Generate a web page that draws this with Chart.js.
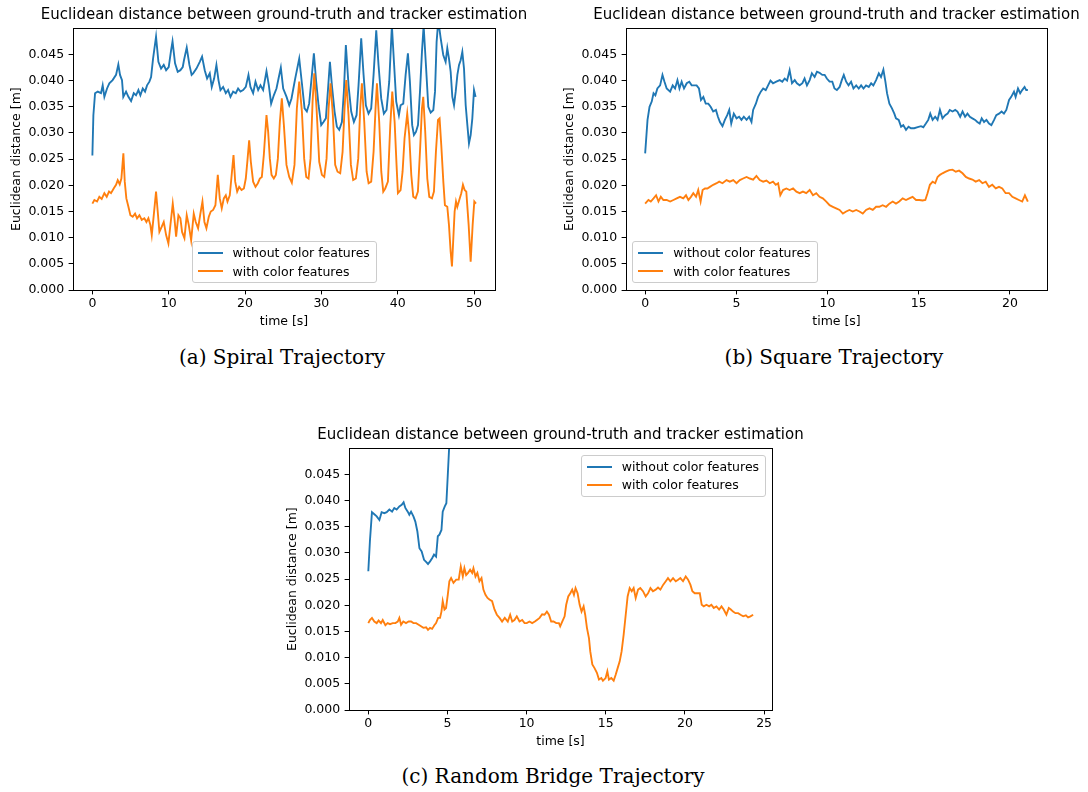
<!DOCTYPE html>
<html>
<head>
<meta charset="utf-8">
<title>Euclidean distance between ground-truth and tracker estimation</title>
<script src="https://cdn.jsdelivr.net/npm/chart.js@4.4.1/dist/chart.umd.min.js"></script>
<style>
  html, body { margin: 0; padding: 0; background: #fff; width: 1088px; height: 792px; overflow: hidden; }
  .panel { position: absolute; }
  .panel canvas { display: block; }
  .legend {
    position: absolute; box-sizing: border-box; padding: 2px 6px 2px 5px;
    border: 1px solid #cccccc; border-radius: 3px; background: rgba(255,255,255,0.8);
    font: 12.5px 'DejaVu Sans', sans-serif; color: #000; white-space: nowrap;
  }
  .legend .row { display: flex; align-items: center; height: 18.3px; }
  .legend .swatch { width: 25px; height: 2px; margin-right: 10px; flex: none; }
  .caption {
    position: absolute; font: 20px 'DejaVu Serif', serif; line-height: 20px;
    color: #000; white-space: nowrap; transform: translateX(-50%);
  }
</style>
</head>
<body>
<div class="panel" style="left:0px;top:0px"><canvas id="ca" width="568" height="330"></canvas><div class="legend" id="la"></div></div>
<div class="panel" style="left:553px;top:0px"><canvas id="cb" width="567" height="330"></canvas><div class="legend" id="lb"></div></div>
<div class="panel" style="left:276px;top:420px"><canvas id="cc" width="569" height="330"></canvas><div class="legend" id="lc"></div></div>
<div class="caption" style="left:282px;top:347px">(a) Spiral Trajectory</div>
<div class="caption" style="left:834px;top:347px">(b) Square Trajectory</div>
<div class="caption" style="left:553px;top:766px">(c) Random Bridge Trajectory</div>
<script>
// ---- data (time in s, distance in m) ----
const seriesLabels = ['without color features', 'with color features'];
const yTicks = [0, 0.005, 0.01, 0.015, 0.02, 0.025, 0.03, 0.035, 0.04, 0.045];
const spiralXTicks = [0, 10, 20, 30, 40, 50];
const squareXTicks = [0, 5, 10, 15, 20];
const bridgeXTicks = [0, 5, 10, 15, 20, 25];

// (a) spiral
const spiralTimeA = [0, 0.13, 0.35, 0.7, 1.13, 1.35, 1.57, 1.92, 2.22, 2.65,
  3.1, 3.4, 3.62, 3.88, 4.05, 4.41, 4.72, 5.07, 5.42, 5.72,
  6.03, 6.29, 6.6, 6.9, 7.16, 7.47, 7.69, 7.95, 8.34, 8.65,
  9.0, 9.35, 9.66, 10.0, 10.31, 10.5, 10.83, 11.18, 11.53, 11.84,
  12.0, 12.36, 12.71, 13.0, 13.2, 13.63, 14.07, 14.37, 14.72, 15.03,
  15.38, 15.64, 15.95, 16.25, 16.52, 16.78, 17.13, 17.48, 17.78, 18.09,
  18.44, 18.79, 19.09, 19.4, 19.75, 20.1, 20.45, 20.71, 21.06, 21.37,
  21.72, 22.02, 22.37, 22.81, 23.12, 23.42, 23.77, 24.12, 24.39, 24.69,
  25.0, 25.44, 25.79, 26.09, 26.57, 27.1, 27.45, 27.8, 28.1, 28.4,
  28.76, 29.02, 29.32, 29.63, 29.98, 30.28, 30.59, 30.85, 31.12, 31.38,
  31.73, 32.03, 32.34, 32.69, 32.95, 33.21, 33.56, 33.91, 34.26, 34.61,
  34.87, 35.22, 35.53, 35.83, 36.18, 36.53, 36.84, 37.19, 37.49, 37.84,
  38.19, 38.54, 38.89, 39.24, 39.51, 39.81, 40.16, 40.38, 40.73, 41.04,
  41.34, 41.6, 41.9, 42.13, 42.39, 42.66, 42.92, 43.18, 43.4, 43.7,
  44.01, 44.32, 44.67, 44.89, 45.1, 45.32, 45.63, 45.97, 46.28, 46.5,
  46.72, 46.94, 47.16, 47.38, 47.6, 47.82, 48.04, 48.25, 48.47, 48.69,
  48.91, 49.13, 49.34, 49.56, 49.78, 50.0, 50.21];
const spiralWithout = [0.0257, 0.0334, 0.0376, 0.0379, 0.0376, 0.0391, 0.0369, 0.0385, 0.0395, 0.0401,
  0.0411, 0.0431, 0.0411, 0.0401, 0.0369, 0.0379, 0.0369, 0.0361, 0.0376, 0.0372,
  0.0382, 0.0372, 0.0385, 0.0379, 0.0391, 0.0398, 0.0407, 0.0442, 0.0484, 0.0436,
  0.0423, 0.0430, 0.0420, 0.0426, 0.0458, 0.0475, 0.0433, 0.0417, 0.0420, 0.0426,
  0.0439, 0.0463, 0.0430, 0.0411, 0.0414, 0.0423, 0.0436, 0.0446, 0.0420, 0.0404,
  0.0414, 0.0388, 0.0404, 0.0430, 0.0401, 0.0382, 0.0388, 0.0376, 0.0382, 0.0369,
  0.0379, 0.0376, 0.0385, 0.0379, 0.0382, 0.0388, 0.0411, 0.0388, 0.0376, 0.0398,
  0.0382, 0.0391, 0.0382, 0.0418, 0.0391, 0.0356, 0.0372, 0.0385, 0.0404, 0.0425,
  0.0385, 0.0369, 0.0353, 0.0366, 0.0404, 0.0442, 0.0395, 0.0347, 0.0341, 0.0356,
  0.0411, 0.0452, 0.0398, 0.0353, 0.0315, 0.0321, 0.0328, 0.0379, 0.0436, 0.0391,
  0.0341, 0.0312, 0.0306, 0.0321, 0.0379, 0.0468, 0.0391, 0.0341, 0.0321, 0.0334,
  0.0391, 0.0481, 0.0411, 0.0353, 0.0337, 0.0347, 0.0411, 0.0496, 0.0430, 0.0366,
  0.0337, 0.0344, 0.0398, 0.0505, 0.0436, 0.0360, 0.0334, 0.0353, 0.0356, 0.0411,
  0.0452, 0.0398, 0.0315, 0.0296, 0.0302, 0.0315, 0.0379, 0.0455, 0.0505, 0.0430,
  0.0350, 0.0339, 0.0344, 0.0379, 0.0474, 0.0515, 0.0481, 0.0449, 0.0436, 0.0462,
  0.0442, 0.0417, 0.0369, 0.0353, 0.0379, 0.0411, 0.0430, 0.0439, 0.0455, 0.0423,
  0.0353, 0.0315, 0.0280, 0.0296, 0.0328, 0.0382, 0.0369];
const spiralTimeB = [0, 0.26, 0.61, 0.91, 1.22, 1.57, 1.88, 2.18, 2.44, 2.79,
  3.1, 3.32, 3.58, 3.8, 4.06, 4.24, 4.45, 4.72, 4.98, 5.28,
  5.59, 5.85, 6.16, 6.47, 6.81, 7.08, 7.34, 7.6, 7.78, 8.0,
  8.34, 8.56, 8.78, 9.09, 9.35, 9.66, 9.96, 10.22, 10.53, 10.75,
  10.97, 11.27, 11.53, 11.75, 12.06, 12.36, 12.63, 12.94, 13.28, 13.54,
  13.85, 14.15, 14.42, 14.68, 14.94, 15.25, 15.51, 15.82, 16.12, 16.43,
  16.69, 16.95, 17.22, 17.48, 17.7, 18.0, 18.27, 18.49, 18.71, 18.97,
  19.23, 19.54, 19.85, 20.1, 20.32, 20.54, 20.76, 21.06, 21.37, 21.68,
  21.94, 22.2, 22.46, 22.81, 23.03, 23.25, 23.47, 23.77, 24.04, 24.3,
  24.56, 24.82, 25.09, 25.43, 25.79, 26.13, 26.48, 26.79, 27.1, 27.45,
  27.75, 28.02, 28.32, 28.58, 28.85, 29.07, 29.37, 29.72, 30.07, 30.38,
  30.68, 30.95, 31.2, 31.51, 31.81, 32.12, 32.47, 32.78, 33.04, 33.26,
  33.56, 33.87, 34.17, 34.52, 34.83, 35.09, 35.31, 35.62, 35.93, 36.19,
  36.53, 36.84, 37.1, 37.28, 37.58, 37.85, 38.11, 38.37, 38.72, 39.03,
  39.29, 39.6, 39.85, 40.03, 40.38, 40.64, 40.9, 41.25, 41.51, 41.78,
  42.04, 42.35, 42.65, 42.92, 43.18, 43.35, 43.61, 43.88, 44.14, 44.49,
  44.75, 45.01, 45.28, 45.49, 45.71, 45.98, 46.19, 46.5, 46.72, 46.94,
  47.11, 47.29, 47.46, 47.64, 47.81, 48.07, 48.33, 48.55, 48.77, 48.99,
  49.3, 49.56, 49.82, 50.04, 50.26];
const spiralWith = [0.0165, 0.0172, 0.0169, 0.0178, 0.0174, 0.0185, 0.0178, 0.0188, 0.0185, 0.0194,
  0.0201, 0.0210, 0.0202, 0.0213, 0.0261, 0.0207, 0.0175, 0.0159, 0.0143, 0.0140,
  0.0146, 0.0137, 0.0143, 0.0134, 0.0137, 0.0130, 0.0137, 0.0124, 0.0105, 0.0137,
  0.0188, 0.0150, 0.0111, 0.0121, 0.0130, 0.0105, 0.0089, 0.0124, 0.0165, 0.0137,
  0.0102, 0.0143, 0.0137, 0.0111, 0.0099, 0.0143, 0.0124, 0.0095, 0.0146, 0.0130,
  0.0118, 0.0146, 0.0169, 0.0130, 0.0118, 0.0140, 0.0150, 0.0153, 0.0162, 0.0220,
  0.0175, 0.0156, 0.0175, 0.0181, 0.0169, 0.0181, 0.0223, 0.0258, 0.0207, 0.0188,
  0.0197, 0.0191, 0.0194, 0.0213, 0.0248, 0.0286, 0.0245, 0.0207, 0.0197, 0.0204,
  0.0213, 0.0216, 0.0258, 0.0334, 0.0302, 0.0251, 0.0220, 0.0213, 0.0220, 0.0251,
  0.0321, 0.0366, 0.0315, 0.0239, 0.0216, 0.0205, 0.0239, 0.0347, 0.0398, 0.0341,
  0.0251, 0.0216, 0.0213, 0.0251, 0.0360, 0.0414, 0.0347, 0.0245, 0.0220, 0.0216,
  0.0251, 0.0347, 0.0395, 0.0334, 0.0239, 0.0226, 0.0223, 0.0264, 0.0347, 0.0401,
  0.0334, 0.0239, 0.0210, 0.0213, 0.0251, 0.0347, 0.0395, 0.0321, 0.0226, 0.0204,
  0.0207, 0.0264, 0.0347, 0.0395, 0.0321, 0.0226, 0.0188, 0.0194, 0.0207, 0.0315,
  0.0379, 0.0321, 0.0239, 0.0185, 0.0191, 0.0226, 0.0290, 0.0337, 0.0296, 0.0220,
  0.0178, 0.0175, 0.0188, 0.0264, 0.0347, 0.0369, 0.0302, 0.0213, 0.0178, 0.0175,
  0.0188, 0.0264, 0.0325, 0.0328, 0.0277, 0.0207, 0.0162, 0.0159, 0.0124, 0.0073,
  0.0045, 0.0099, 0.0150, 0.0169, 0.0159, 0.0172, 0.0185, 0.0201, 0.0191, 0.0188,
  0.0124, 0.0054, 0.0124, 0.0169, 0.0165];

// (b) square
const squareTimeA = [0, 0.13, 0.24, 0.36, 0.46, 0.56, 0.67, 0.82, 0.95, 1.06,
  1.18, 1.37, 1.51, 1.64, 1.77, 1.88, 2.0, 2.13, 2.28, 2.42,
  2.55, 2.68, 2.82, 2.95, 3.06, 3.19, 3.32, 3.46, 3.59, 3.73,
  3.88, 3.99, 4.1, 4.24, 4.37, 4.5, 4.61, 4.72, 4.86, 5.01,
  5.15, 5.28, 5.41, 5.56, 5.7, 5.83, 5.92, 6.07, 6.19, 6.34,
  6.47, 6.61, 6.74, 6.87, 7.01, 7.19, 7.38, 7.52, 7.65, 7.78,
  7.92, 8.05, 8.2, 8.32, 8.47, 8.62, 8.74, 8.87, 9.02, 9.14,
  9.29, 9.42, 9.56, 9.71, 9.84, 9.96, 10.11, 10.26, 10.38, 10.51,
  10.66, 10.78, 10.89, 11.02, 11.15, 11.29, 11.42, 11.57, 11.71, 11.84,
  11.97, 12.11, 12.26, 12.39, 12.51, 12.66, 12.81, 12.93, 13.06, 13.17,
  13.26, 13.39, 13.53, 13.66, 13.75, 13.9, 14.03, 14.15, 14.3, 14.44,
  14.57, 14.75, 14.94, 15.12, 15.25, 15.39, 15.52, 15.63, 15.76, 15.9,
  16.03, 16.16, 16.3, 16.45, 16.58, 16.7, 16.85, 17.0, 17.12, 17.27,
  17.4, 17.54, 17.67, 17.8, 17.94, 18.09, 18.21, 18.34, 18.45, 18.58,
  18.71, 18.85, 18.98, 19.13, 19.25, 19.4, 19.54, 19.67, 19.8, 19.95,
  20.07, 20.22, 20.31, 20.44, 20.56, 20.67, 20.8, 20.89, 20.98];
const squareWithout = [0.0261, 0.0325, 0.0350, 0.0360, 0.0376, 0.0372, 0.0385, 0.0391, 0.0411, 0.0398,
  0.0385, 0.0379, 0.0391, 0.0385, 0.0401, 0.0385, 0.0398, 0.0385, 0.0395, 0.0398,
  0.0391, 0.0391, 0.0391, 0.0385, 0.0363, 0.0369, 0.0356, 0.0356, 0.0350, 0.0341,
  0.0344, 0.0331, 0.0321, 0.0313, 0.0325, 0.0334, 0.0344, 0.0318, 0.0337, 0.0328,
  0.0331, 0.0325, 0.0331, 0.0325, 0.0331, 0.0321, 0.0344, 0.0356, 0.0369, 0.0379,
  0.0385, 0.0382, 0.0391, 0.0400, 0.0395, 0.0398, 0.0401, 0.0398, 0.0404, 0.0400,
  0.0420, 0.0395, 0.0401, 0.0395, 0.0391, 0.0395, 0.0404, 0.0391, 0.0401, 0.0414,
  0.0407, 0.0417, 0.0415, 0.0411, 0.0411, 0.0404, 0.0398, 0.0398, 0.0385, 0.0382,
  0.0388, 0.0401, 0.0411, 0.0398, 0.0391, 0.0398, 0.0385, 0.0391, 0.0385, 0.0391,
  0.0385, 0.0391, 0.0388, 0.0395, 0.0391, 0.0401, 0.0414, 0.0407, 0.0421, 0.0398,
  0.0376, 0.0356, 0.0347, 0.0337, 0.0328, 0.0325, 0.0312, 0.0315, 0.0306, 0.0312,
  0.0309, 0.0309, 0.0311, 0.0313, 0.0311, 0.0318, 0.0325, 0.0337, 0.0325, 0.0331,
  0.0325, 0.0344, 0.0328, 0.0334, 0.0337, 0.0344, 0.0341, 0.0344, 0.0341, 0.0331,
  0.0341, 0.0331, 0.0337, 0.0331, 0.0328, 0.0325, 0.0321, 0.0318, 0.0328, 0.0321,
  0.0325, 0.0318, 0.0315, 0.0325, 0.0334, 0.0337, 0.0341, 0.0337, 0.0344, 0.0363,
  0.0369, 0.0379, 0.0369, 0.0385, 0.0376, 0.0382, 0.0388, 0.0382, 0.0382];
const squareTimeB = [0, 0.18, 0.31, 0.46, 0.6, 0.73, 0.86, 1.0, 1.18, 1.37,
  1.55, 1.73, 1.91, 2.09, 2.24, 2.37, 2.51, 2.64, 2.79, 2.91,
  3.04, 3.15, 3.28, 3.41, 3.55, 3.73, 3.92, 4.06, 4.24, 4.46,
  4.64, 4.83, 5.01, 5.19, 5.37, 5.56, 5.74, 5.92, 6.1, 6.28,
  6.47, 6.65, 6.83, 7.01, 7.16, 7.29, 7.41, 7.56, 7.74, 7.92,
  8.11, 8.29, 8.47, 8.65, 8.83, 9.02, 9.2, 9.38, 9.56, 9.74,
  9.93, 10.11, 10.29, 10.47, 10.66, 10.84, 11.02, 11.2, 11.38, 11.57,
  11.75, 11.93, 12.11, 12.3, 12.48, 12.66, 12.84, 13.02, 13.21, 13.39,
  13.57, 13.75, 13.93, 14.12, 14.3, 14.48, 14.66, 14.85, 15.03, 15.21,
  15.36, 15.48, 15.61, 15.76, 15.9, 16.03, 16.16, 16.3, 16.48, 16.67,
  16.85, 17.03, 17.21, 17.4, 17.58, 17.76, 17.94, 18.12, 18.31, 18.49,
  18.67, 18.85, 19.03, 19.22, 19.4, 19.58, 19.76, 19.95, 20.13, 20.31,
  20.49, 20.67, 20.82, 20.98];
const squareWith = [0.0165, 0.0172, 0.0169, 0.0175, 0.0181, 0.0169, 0.0178, 0.0172, 0.0172, 0.0169,
  0.0172, 0.0175, 0.0178, 0.0175, 0.0181, 0.0172, 0.0178, 0.0185, 0.0178, 0.0191,
  0.0169, 0.0191, 0.0194, 0.0194, 0.0197, 0.0201, 0.0204, 0.0207, 0.0204, 0.0210,
  0.0207, 0.0210, 0.0204, 0.0210, 0.0213, 0.0216, 0.0213, 0.0211, 0.0218, 0.0210,
  0.0207, 0.0209, 0.0204, 0.0207, 0.0201, 0.0204, 0.0181, 0.0191, 0.0194, 0.0191,
  0.0194, 0.0188, 0.0185, 0.0188, 0.0185, 0.0191, 0.0181, 0.0185, 0.0178, 0.0175,
  0.0169, 0.0162, 0.0159, 0.0156, 0.0153, 0.0146, 0.0150, 0.0153, 0.0150, 0.0153,
  0.0150, 0.0146, 0.0153, 0.0156, 0.0153, 0.0159, 0.0159, 0.0162, 0.0159, 0.0165,
  0.0169, 0.0165, 0.0169, 0.0175, 0.0172, 0.0175, 0.0178, 0.0172, 0.0172, 0.0171,
  0.0172, 0.0185, 0.0201, 0.0207, 0.0204, 0.0216, 0.0220, 0.0223, 0.0226, 0.0229,
  0.0230, 0.0226, 0.0228, 0.0223, 0.0216, 0.0213, 0.0211, 0.0207, 0.0210, 0.0204,
  0.0207, 0.0197, 0.0201, 0.0194, 0.0197, 0.0194, 0.0185, 0.0185, 0.0178, 0.0175,
  0.0172, 0.0169, 0.0181, 0.0169];

// (c) random bridge
const bridgeTimeA = [0, 0.1, 0.23, 0.38, 0.53, 0.7, 0.84, 1.01, 1.16, 1.33,
  1.5, 1.64, 1.79, 1.96, 2.11, 2.23, 2.34, 2.49, 2.59, 2.7,
  2.85, 2.97, 3.1, 3.23, 3.37, 3.52, 3.65, 3.77, 3.9, 4.03,
  4.15, 4.28, 4.39, 4.49, 4.62, 4.7, 4.83, 4.93, 5.02, 5.12,
  5.25];
const bridgeWithout = [0.0265, 0.0322, 0.0378, 0.0374, 0.0370, 0.0363, 0.0378, 0.0376, 0.0378, 0.0383,
  0.0379, 0.0386, 0.0383, 0.0389, 0.0392, 0.0397, 0.0386, 0.0379, 0.0373, 0.0379,
  0.0370, 0.0360, 0.0341, 0.0309, 0.0303, 0.0287, 0.0283, 0.0279, 0.0284, 0.0290,
  0.0297, 0.0293, 0.0332, 0.0335, 0.0344, 0.0379, 0.0389, 0.0395, 0.0449, 0.0510,
  0.0600];
const bridgeTimeB = [0, 0.1, 0.23, 0.38, 0.53, 0.65, 0.8, 0.91, 1.08, 1.22,
  1.37, 1.54, 1.71, 1.86, 1.96, 2.07, 2.21, 2.38, 2.55, 2.7,
  2.85, 3.02, 3.18, 3.33, 3.48, 3.65, 3.77, 3.9, 4.03, 4.17,
  4.28, 4.41, 4.53, 4.62, 4.7, 4.81, 4.91, 5.02, 5.12, 5.23,
  5.38, 5.55, 5.71, 5.84, 5.97, 6.07, 6.18, 6.3, 6.43, 6.56,
  6.64, 6.77, 6.89, 7.02, 7.15, 7.27, 7.4, 7.53, 7.65, 7.82,
  7.97, 8.12, 8.29, 8.45, 8.62, 8.81, 8.96, 9.09, 9.23, 9.38,
  9.55, 9.72, 9.87, 10.01, 10.18, 10.35, 10.52, 10.65, 10.82, 10.98,
  11.13, 11.28, 11.41, 11.55, 11.7, 11.87, 12.04, 12.12, 12.25, 12.4,
  12.5, 12.63, 12.76, 12.88, 12.99, 13.09, 13.22, 13.35, 13.47, 13.6,
  13.7, 13.81, 13.94, 14.02, 14.15, 14.29, 14.44, 14.57, 14.72, 14.82,
  14.99, 15.1, 15.2, 15.35, 15.5, 15.62, 15.75, 15.88, 16.0, 16.13,
  16.26, 16.38, 16.51, 16.64, 16.76, 16.89, 17.04, 17.18, 17.35, 17.52,
  17.67, 17.82, 17.98, 18.15, 18.3, 18.45, 18.62, 18.79, 18.93, 19.08,
  19.25, 19.42, 19.57, 19.71, 19.88, 20.05, 20.2, 20.35, 20.47, 20.62,
  20.77, 20.94, 21.06, 21.19, 21.36, 21.53, 21.67, 21.82, 21.99, 22.16,
  22.31, 22.45, 22.62, 22.77, 22.9, 23.04, 23.19, 23.36, 23.51, 23.68,
  23.85, 23.99, 24.14, 24.31];
const bridgeWith = [0.0166, 0.0172, 0.0176, 0.0169, 0.0166, 0.0171, 0.0166, 0.0172, 0.0162, 0.0166,
  0.0164, 0.0166, 0.0166, 0.0169, 0.0176, 0.0163, 0.0169, 0.0166, 0.0169, 0.0169,
  0.0166, 0.0166, 0.0163, 0.0160, 0.0157, 0.0158, 0.0153, 0.0157, 0.0155, 0.0162,
  0.0166, 0.0176, 0.0176, 0.0188, 0.0208, 0.0192, 0.0195, 0.0220, 0.0246, 0.0252,
  0.0243, 0.0249, 0.0249, 0.0274, 0.0255, 0.0271, 0.0258, 0.0262, 0.0268, 0.0262,
  0.0271, 0.0255, 0.0262, 0.0246, 0.0252, 0.0230, 0.0220, 0.0214, 0.0211, 0.0208,
  0.0192, 0.0182, 0.0176, 0.0169, 0.0176, 0.0169, 0.0182, 0.0169, 0.0172, 0.0179,
  0.0169, 0.0172, 0.0166, 0.0166, 0.0169, 0.0166, 0.0169, 0.0172, 0.0176, 0.0183,
  0.0182, 0.0188, 0.0182, 0.0169, 0.0169, 0.0166, 0.0166, 0.0160, 0.0169, 0.0179,
  0.0201, 0.0217, 0.0223, 0.0230, 0.0220, 0.0233, 0.0223, 0.0201, 0.0188, 0.0198,
  0.0182, 0.0157, 0.0137, 0.0112, 0.0087, 0.0080, 0.0071, 0.0058, 0.0061, 0.0056,
  0.0061, 0.0074, 0.0058, 0.0061, 0.0056, 0.0067, 0.0080, 0.0093, 0.0112, 0.0144,
  0.0182, 0.0217, 0.0233, 0.0227, 0.0233, 0.0214, 0.0230, 0.0233, 0.0227, 0.0217,
  0.0223, 0.0233, 0.0227, 0.0230, 0.0234, 0.0230, 0.0239, 0.0246, 0.0252, 0.0246,
  0.0252, 0.0246, 0.0249, 0.0252, 0.0246, 0.0255, 0.0249, 0.0239, 0.0227, 0.0223,
  0.0223, 0.0223, 0.0201, 0.0198, 0.0201, 0.0198, 0.0201, 0.0195, 0.0198, 0.0192,
  0.0198, 0.0192, 0.0182, 0.0195, 0.0192, 0.0188, 0.0185, 0.0185, 0.0182, 0.0179,
  0.0181, 0.0177, 0.0179, 0.0182];

// ---- chart setup ----
const FONT = "'DejaVu Sans', sans-serif";
const BLUE = '#1f77b4';
const ORANGE = '#ff7f0e';
Chart.defaults.font.family = FONT;
Chart.defaults.color = '#000';

const pts = (xs, ys) => xs.map((x, i) => ({x: x, y: ys[i]}));

// matplotlib-like box around the axes
const frame = {
  id: 'frame',
  afterDatasetsDraw(chart) {
    const {ctx, chartArea: a} = chart;
    const l = Math.round(a.left) + 0.5, t = Math.round(a.top) + 0.5;
    const r = Math.round(a.right) + 0.5, b = Math.round(a.bottom) + 0.5;
    ctx.save();
    ctx.strokeStyle = '#000';
    ctx.lineWidth = 1;
    ctx.strokeRect(l, t, r - l, b - t);
    ctx.restore();
  }
};

// legend box as html, placed inside the plot area
const htmlLegend = {
  id: 'htmlLegend',
  afterUpdate(chart, args, opts) {
    const box = document.getElementById(opts.el);
    box.innerHTML = '';
    chart.data.datasets.forEach(ds => {
      const row = document.createElement('div');
      row.className = 'row';
      const sw = document.createElement('span');
      sw.className = 'swatch';
      sw.style.background = ds.borderColor;
      const txt = document.createElement('span');
      txt.textContent = ds.label;
      row.appendChild(sw);
      row.appendChild(txt);
      box.appendChild(row);
    });
    const a = chart.chartArea, pad = 6.25;
    const w = box.offsetWidth, h = box.offsetHeight;
    let left, top;
    if (opts.loc === 'lower center') {
      left = (a.left + a.right) / 2 - w / 2; top = a.bottom - pad - h;
    } else if (opts.loc === 'lower left') {
      left = a.left + pad; top = a.bottom - pad - h;
    } else {
      left = a.right - pad - w; top = a.top + pad;
    }
    box.style.left = left + 'px';
    box.style.top = top + 'px';
  }
};

function makePanel(canvasId, legendId, loc, xMin, xMax, xTicks, tA, without, tB, withColor) {
  const tickFont = {family: FONT, size: 12.5};
  new Chart(document.getElementById(canvasId), {
    type: 'line',
    data: {
      datasets: [
        {label: seriesLabels[0], data: pts(tA, without), borderColor: BLUE, backgroundColor: BLUE,
          borderWidth: 1.875, pointRadius: 0, tension: 0, clip: 0, order: 1},
        {label: seriesLabels[1], data: pts(tB, withColor), borderColor: ORANGE, backgroundColor: ORANGE,
          borderWidth: 1.875, pointRadius: 0, tension: 0, clip: 0, order: 0}
      ]
    },
    options: {
      responsive: false,
      animation: false,
      events: [],
      layout: {padding: 0},
      plugins: {
        legend: {display: false},
        tooltip: {enabled: false},
        title: {
          display: true,
          text: 'Euclidean distance between ground-truth and tracker estimation',
          font: {family: FONT, size: 15, weight: 'normal'},
          color: '#000',
          padding: {top: 6, bottom: 4.3}
        },
        htmlLegend: {el: legendId, loc: loc}
      },
      scales: {
        x: {
          type: 'linear', min: xMin, max: xMax,
          afterBuildTicks: s => { s.ticks = xTicks.map(v => ({value: v})); },
          ticks: {font: tickFont, color: '#000', padding: 2, maxRotation: 0, autoSkip: false,
            callback: v => String(v)},
          grid: {display: true, drawOnChartArea: false, drawTicks: true, tickLength: 4.4, color: '#000', lineWidth: 1},
          border: {display: false},
          title: {display: true, text: 'time [s]', font: tickFont, color: '#000', padding: {top: 0, bottom: 0.8}},
          afterFit: s => { s.height = 40; }
        },
        y: {
          type: 'linear', position: 'left', min: 0, max: 0.05,
          afterBuildTicks: s => { s.ticks = yTicks.map(v => ({value: v})); },
          ticks: {font: tickFont, color: '#000', padding: 4.4, autoSkip: false,
            callback: v => v.toFixed(3)},
          grid: {display: true, drawOnChartArea: false, drawTicks: true, tickLength: 4.4, color: '#000', lineWidth: 1},
          border: {display: false},
          title: {display: true, text: 'Euclidean distance [m]', font: tickFont, color: '#000', padding: {top: 9, bottom: 0}},
          afterFit: s => { s.width = 73; }
        },
        yR: {
          type: 'linear', axis: 'y', position: 'right', display: true,
          grid: {display: false}, ticks: {display: false}, border: {display: false},
          afterFit: s => { s.width = 73; }
        }
      }
    },
    plugins: [frame, htmlLegend]
  });
}

makePanel('ca', 'la', 'lower center', -2.54, 52.75, spiralXTicks, spiralTimeA, spiralWithout, spiralTimeB, spiralWith);
makePanel('cb', 'lb', 'lower left', -1.05, 22.03, squareXTicks, squareTimeA, squareWithout, squareTimeB, squareWith);
makePanel('cc', 'lc', 'upper right', -1.22, 25.5, bridgeXTicks, bridgeTimeA, bridgeWithout, bridgeTimeB, bridgeWith);
</script>
</body>
</html>
